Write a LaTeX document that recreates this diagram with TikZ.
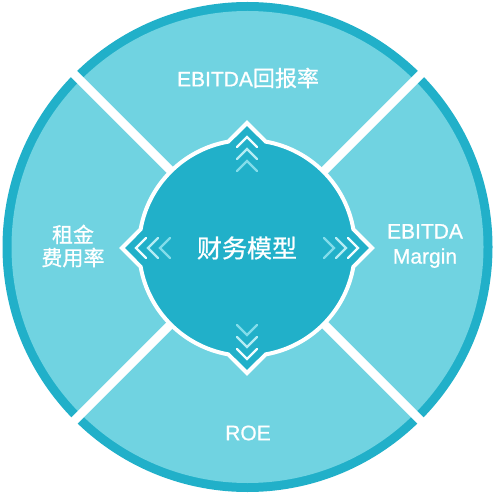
\documentclass[tikz,border=0pt]{standalone}
\usepackage{fontspec}
\newfontfamily\cjk[FakeBold=0.8]{Noto Sans CJK SC}
\newfontfamily\lat[FakeBold=0.8]{Liberation Sans}
\definecolor{ringteal}{RGB}{33,176,201}
\definecolor{lightteal}{RGB}{112,211,225}
\definecolor{chevA}{RGB}{240,252,254}
\definecolor{chevB}{RGB}{180,236,244}
\definecolor{chevC}{RGB}{130,220,234}
\begin{document}
\begin{tikzpicture}[x=1pt,y=-1pt,
  labeltext/.style={text=white,inner sep=0pt,align=center},
  gapline/.style={draw=white,line width=8.5pt},
  chev/.style={line width=2.2pt,line cap=round,line join=miter}]
\useasboundingbox (0,0) rectangle (495,494);
% outer disk and ring
\fill[ringteal] (247.5,247) circle[radius=245];
\fill[lightteal] (247.5,247) circle[radius=236];
% white diagonal gaps
\coordinate (c) at (247.5,247.5);
\coordinate (ul) at (40,40);
\coordinate (ur) at (455,40);
\coordinate (ll) at (40,455);
\coordinate (lr) at (455,455);
\draw[gapline] (ul) -- (lr);
\draw[gapline] (ur) -- (ll);
% central compass shape
\begin{scope}[shift={(247,248)}]
  \def\R{108}\def\T{125}
  \filldraw[fill=ringteal,draw=white,line width=4pt,line join=miter]
    (\T,0) -- (10:\R) arc[start angle=10,end angle=80,radius=\R]
    -- (0,\T) -- (100:\R) arc[start angle=100,end angle=170,radius=\R]
    -- (-\T,0) -- (190:\R) arc[start angle=190,end angle=260,radius=\R]
    -- (0,-\T) -- (280:\R) arc[start angle=280,end angle=350,radius=\R]
    -- cycle;
  \foreach \a in {0,90,180,270}{
    \begin{scope}[rotate=\a]
      \draw[chev,chevA] (101,-10) -- (111,0) -- (101,10);
      \draw[chev,chevB] (89,-10) -- (99,0) -- (89,10);
      \draw[chev,chevC] (77,-10) -- (87,0) -- (77,10);
    \end{scope}
  }
\end{scope}
% labels
\node[labeltext,font=\cjk\fontsize{25}{28}\selectfont] (center) at (247,248) {财务模型};
\node[labeltext,font=\lat\fontsize{21}{25}\selectfont] (top) at (248,78) {EBITDA{\cjk\fontsize{22}{25}\selectfont 回报率}};
\node[labeltext,font=\lat\fontsize{21}{25}\selectfont] (right) at (425,246) {EBITDA\\Margin};
\node[labeltext,font=\cjk\fontsize{21}{23}\selectfont] (left) at (73,246) {租金\\费用率};
\node[labeltext,font=\lat\fontsize{21}{25}\selectfont] (bottom) at (248,433) {ROE};
\end{tikzpicture}
\end{document}
